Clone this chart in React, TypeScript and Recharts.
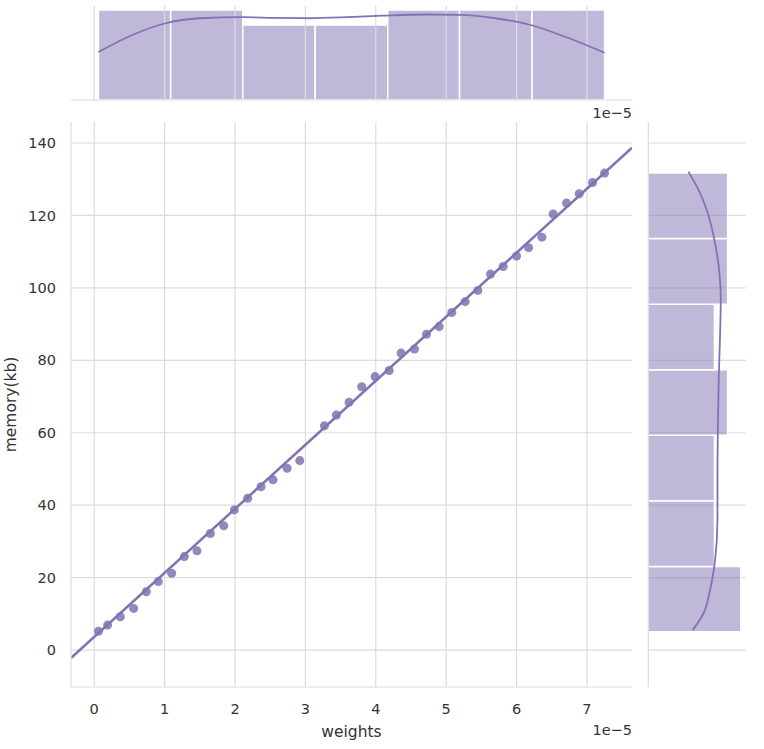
import { ComposedChart, Scatter, Line, XAxis, YAxis, CartesianGrid, Label, ReferenceArea, ReferenceLine } from 'recharts';

const PURPLE = '#8172B3';
const GRID = '#dcdcdc';
const TEXT = '#333333';
const FONT = "'DejaVu Sans', sans-serif";

// scatter points (weights are in units of 1e-5)
const WEIGHTS = [0.06, 0.19, 0.37, 0.56, 0.74, 0.91, 1.1, 1.28, 1.46, 1.65, 1.84, 1.99, 2.18, 2.37, 2.54, 2.74, 2.92, 3.27, 3.44, 3.62, 3.8, 3.99, 4.19, 4.36, 4.55, 4.72, 4.9, 5.08, 5.27, 5.45, 5.63, 5.81, 6.0, 6.17, 6.36, 6.52, 6.71, 6.89, 7.08, 7.25];
const MEMORY = [5.2, 6.9, 9.2, 11.5, 16.1, 18.9, 21.2, 25.8, 27.4, 32.2, 34.3, 38.7, 41.9, 45.1, 47.0, 50.2, 52.3, 61.9, 64.9, 68.4, 72.7, 75.5, 77.2, 82.0, 83.1, 87.2, 89.3, 93.2, 96.2, 99.3, 103.8, 105.9, 108.8, 111.1, 114.0, 120.4, 123.4, 126.0, 129.1, 131.7];

// regression line, read at the plot edges
const FIT_X = [-0.33, 7.64];
const FIT_Y = [-2.2, 138.7];

// marginal histograms
const HIST_X_EDGES = [0.06, 1.086, 2.11, 3.14, 4.17, 5.19, 6.22, 7.25];
const HIST_X_COUNTS = [6, 6, 5, 5, 6, 6, 6];
const HIST_Y_EDGES = [5.06, 23.1, 41.2, 59.3, 77.4, 95.5, 113.6, 131.7];
const HIST_Y_COUNTS = [7, 5, 5, 6, 5, 6, 6];

// marginal kde curves (in count units)
const KDE_X_POS = [0.06, 0.55, 1.0, 1.5, 2.1, 2.6, 3.05, 3.6, 4.1, 4.7, 5.2, 5.7, 6.2, 6.7, 7.25];
const KDE_X_VAL = [3.2, 4.35, 5.1, 5.45, 5.52, 5.47, 5.45, 5.52, 5.62, 5.7, 5.67, 5.45, 5.0, 4.2, 3.15];
const KDE_Y_POS = [5.5, 10.1, 16.6, 24.9, 35.9, 47.9, 61.7, 75.5, 87.5, 96.7, 104.1, 112.3, 121.5, 127.1, 132.1];
const KDE_Y_VAL = [3.36, 4.17, 4.67, 5.05, 5.23, 5.23, 5.26, 5.33, 5.43, 5.48, 5.38, 5.05, 4.42, 3.79, 3.03];

const X_TICKS = [0, 1, 2, 3, 4, 5, 6, 7];
const Y_TICKS = [0, 20, 40, 60, 80, 100, 120, 140];
const X_DOMAIN = [-0.33, 7.64];
const Y_DOMAIN = [-10.2, 145.8];

const W = 764;
const H = 749;
// joint axes box
const LEFT = 71;
const RIGHT = 632;
const TOP = 122;
const BOTTOM = 687;
// marginal boxes
const MX_TOP = 5.5;
const MX_BOTTOM = 100;
const MY_LEFT = 648.3;
const MY_RIGHT = 745.5;

const points = WEIGHTS.map((x, i) => ({ x, y: MEMORY[i] }));
const fit = FIT_X.map((x, i) => ({ x, y: FIT_Y[i] }));
const kdeX = KDE_X_POS.map((x, i) => ({ x, count: KDE_X_VAL[i] }));
const kdeY = KDE_Y_POS.map((y, i) => ({ y, count: KDE_Y_VAL[i] }));

const abs = { position: 'absolute' as const, left: 0, top: 0 };
const tickStyle = { fill: TEXT, fontSize: 14.5 };
const NoTick = () => <g />;

export default function App() {
  return (
    <div style={{ position: 'absolute', left: 0, top: 0, width: W, height: H, background: '#fff', fontFamily: FONT }}>
      {/* top marginal */}
      <div style={abs}>
        <ComposedChart width={W} height={MX_BOTTOM + 2} margin={{ top: MX_TOP, right: W - RIGHT, bottom: 0, left: LEFT }}>
          <XAxis type="number" dataKey="x" domain={X_DOMAIN} ticks={X_TICKS} interval={0} allowDataOverflow height={2} tick={NoTick} tickLine={false} axisLine={{ stroke: GRID, strokeWidth: 1.2 }} />
          <YAxis type="number" domain={[0, 6.3]} hide />
          {X_TICKS.map((t) => (
            <ReferenceLine key={`g${t}`} x={t} stroke={GRID} strokeWidth={1.2} />
          ))}
          {HIST_X_COUNTS.map((c, i) => (
            <ReferenceArea key={i} x1={HIST_X_EDGES[i]} x2={HIST_X_EDGES[i + 1]} y1={0} y2={c}
              fill={PURPLE} fillOpacity={0.5} stroke="#fff" strokeWidth={1.5} />
          ))}
          <Line data={kdeX} dataKey="count" type="monotone" stroke={PURPLE} strokeWidth={1.8} dot={false} isAnimationActive={false} />
        </ComposedChart>
      </div>

      {/* right marginal */}
      <div style={abs}>
        <ComposedChart width={W} height={H} layout="vertical" margin={{ top: TOP, right: W - MY_RIGHT, bottom: H - BOTTOM, left: MY_LEFT - 2 }}>
          <CartesianGrid stroke={GRID} strokeWidth={1.2} vertical={false} syncWithTicks />
          <XAxis type="number" domain={[0, 7.35]} hide />
          <YAxis type="number" dataKey="y" domain={Y_DOMAIN} ticks={Y_TICKS} interval={0} reversed allowDataOverflow width={2} tick={NoTick} tickLine={false} axisLine={{ stroke: GRID, strokeWidth: 1.2 }} />
          {HIST_Y_COUNTS.map((c, i) => (
            <ReferenceArea key={i} y1={HIST_Y_EDGES[i]} y2={HIST_Y_EDGES[i + 1]} x1={0} x2={c}
              fill={PURPLE} fillOpacity={0.5} stroke="#fff" strokeWidth={1.5} />
          ))}
          <Line data={kdeY} dataKey="count" type="monotone" stroke={PURPLE} strokeWidth={1.8} dot={false} isAnimationActive={false} />
        </ComposedChart>
      </div>

      {/* joint plot */}
      <div style={abs}>
        <ComposedChart width={W} height={H} margin={{ top: TOP, right: W - RIGHT, bottom: 6, left: 0 }}>
          <CartesianGrid stroke={GRID} strokeWidth={1.2} syncWithTicks />
          <XAxis type="number" dataKey="x" domain={X_DOMAIN} ticks={X_TICKS} interval={0} allowDataOverflow height={H - 6 - BOTTOM} tick={tickStyle} tickSize={0} tickMargin={17} axisLine={{ stroke: GRID, strokeWidth: 1.2 }}>
            <Label value="weights" position="insideBottom" offset={6} style={{ fill: TEXT, fontSize: 15.5 }} />
          </XAxis>
          <YAxis type="number" dataKey="y" domain={Y_DOMAIN} ticks={Y_TICKS} interval={0} allowDataOverflow width={LEFT} tick={tickStyle} tickSize={0} tickMargin={15} axisLine={{ stroke: GRID, strokeWidth: 1.2 }}>
            <Label value="memory(kb)" angle={-90} position="insideLeft" offset={10} style={{ fill: TEXT, fontSize: 15.5, textAnchor: 'middle' }} />
          </YAxis>
          <Scatter data={points} fill={PURPLE} fillOpacity={0.85} isAnimationActive={false} />
          <Line data={fit} dataKey="y" stroke={PURPLE} strokeWidth={2.5} dot={false} isAnimationActive={false} />
        </ComposedChart>
      </div>

      {/* offset texts */}
      <div style={{ position: 'absolute', right: W - RIGHT, top: 105, fontSize: 14.5, color: TEXT }}>1e−5</div>
      <div style={{ position: 'absolute', right: W - RIGHT, top: 722, fontSize: 14.5, color: TEXT }}>1e−5</div>
    </div>
  );
}
